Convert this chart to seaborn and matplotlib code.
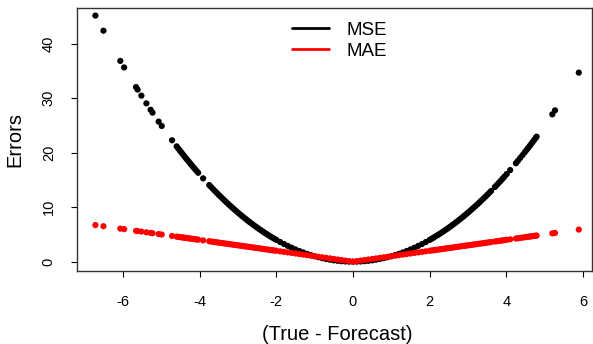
import matplotlib
matplotlib.use("Agg")
import matplotlib.pyplot as plt
from matplotlib.lines import Line2D
import seaborn as sns
import pandas as pd

# Forecast errors (True - Forecast)
errors = [
    -6.72, -6.51, -6.07, -5.97, -5.66, -5.62, -5.52, -5.39, -5.28, -5.23, -5.07, -4.99, -4.72,
    -4.60, -4.56, -4.52, -4.48, -4.44, -4.40, -4.36, -4.32, -4.28, -4.24, -4.20, -4.16, -4.12, -4.08, -4.04,
    -3.91,
    -3.75, -3.70, -3.65, -3.60, -3.55, -3.50, -3.45, -3.40, -3.35, -3.30, -3.25, -3.20, -3.15, -3.10,
    -3.05, -3.00, -2.95, -2.90, -2.85, -2.80, -2.75, -2.70, -2.65, -2.60, -2.55, -2.50, -2.45, -2.40,
    -2.35, -2.30, -2.25, -2.20, -2.15, -2.10, -2.05,
    -2.0, -1.9, -1.8, -1.7, -1.6, -1.5, -1.4, -1.3, -1.2, -1.1, -1.0, -0.9, -0.8, -0.7, -0.6, -0.5,
    -0.4, -0.3, -0.2, -0.1, 0.0, 0.1, 0.2, 0.3, 0.4, 0.5, 0.6, 0.7, 0.8, 0.9, 1.0, 1.1, 1.2, 1.3,
    1.4, 1.5, 1.6, 1.7, 1.8, 1.9, 2.0,
    2.05, 2.10, 2.15, 2.20, 2.25, 2.30, 2.35, 2.40, 2.45, 2.50, 2.55, 2.60, 2.65, 2.70, 2.75, 2.80,
    2.85, 2.90, 2.95, 3.00, 3.05, 3.10, 3.15, 3.20, 3.25, 3.30, 3.35, 3.40, 3.45, 3.50, 3.55, 3.60,
    3.70, 3.75, 3.80, 3.85, 3.90, 3.95,
    4.01, 4.10, 4.25, 4.30, 4.36, 4.42, 4.48, 4.53, 4.57, 4.61, 4.65, 4.69, 4.73, 4.77, 4.79,
    5.20, 5.27, 5.89,
]

mse = [
    45.16, 42.38, 36.84, 35.64, 32.04, 31.58, 30.47, 29.05, 27.88, 27.35, 25.70, 24.90, 22.28,
    21.16, 20.79, 20.43, 20.07, 19.71, 19.36, 19.01, 18.66, 18.32, 17.98, 17.64, 17.31, 16.97, 16.65, 16.32,
    15.29,
    14.06, 13.69, 13.32, 12.96, 12.60, 12.25, 11.90, 11.56, 11.22, 10.89, 10.56, 10.24, 9.92, 9.61,
    9.30, 9.00, 8.70, 8.41, 8.12, 7.84, 7.56, 7.29, 7.02, 6.76, 6.50, 6.25, 6.00, 5.76,
    5.52, 5.29, 5.06, 4.84, 4.62, 4.41, 4.20,
    4.00, 3.61, 3.24, 2.89, 2.56, 2.25, 1.96, 1.69, 1.44, 1.21, 1.00, 0.81, 0.64, 0.49, 0.36, 0.25,
    0.16, 0.09, 0.04, 0.01, 0.00, 0.01, 0.04, 0.09, 0.16, 0.25, 0.36, 0.49, 0.64, 0.81, 1.00, 1.21, 1.44, 1.69,
    1.96, 2.25, 2.56, 2.89, 3.24, 3.61, 4.00,
    4.20, 4.41, 4.62, 4.84, 5.06, 5.29, 5.52, 5.76, 6.00, 6.25, 6.50, 6.76, 7.02, 7.29, 7.56, 7.84,
    8.12, 8.41, 8.70, 9.00, 9.30, 9.61, 9.92, 10.24, 10.56, 10.89, 11.22, 11.56, 11.90, 12.25, 12.60, 12.96,
    13.69, 14.06, 14.44, 14.82, 15.21, 15.60,
    16.08, 16.81, 18.06, 18.49, 19.01, 19.54, 20.07, 20.52, 20.88, 21.25, 21.62, 22.00, 22.37, 22.75, 22.94,
    27.04, 27.77, 34.69,
]

mae = [
    6.72, 6.51, 6.07, 5.97, 5.66, 5.62, 5.52, 5.39, 5.28, 5.23, 5.07, 4.99, 4.72,
    4.60, 4.56, 4.52, 4.48, 4.44, 4.40, 4.36, 4.32, 4.28, 4.24, 4.20, 4.16, 4.12, 4.08, 4.04,
    3.91,
    3.75, 3.70, 3.65, 3.60, 3.55, 3.50, 3.45, 3.40, 3.35, 3.30, 3.25, 3.20, 3.15, 3.10,
    3.05, 3.00, 2.95, 2.90, 2.85, 2.80, 2.75, 2.70, 2.65, 2.60, 2.55, 2.50, 2.45, 2.40,
    2.35, 2.30, 2.25, 2.20, 2.15, 2.10, 2.05,
    2.0, 1.9, 1.8, 1.7, 1.6, 1.5, 1.4, 1.3, 1.2, 1.1, 1.0, 0.9, 0.8, 0.7, 0.6, 0.5,
    0.4, 0.3, 0.2, 0.1, 0.0, 0.1, 0.2, 0.3, 0.4, 0.5, 0.6, 0.7, 0.8, 0.9, 1.0, 1.1, 1.2, 1.3,
    1.4, 1.5, 1.6, 1.7, 1.8, 1.9, 2.0,
    2.05, 2.10, 2.15, 2.20, 2.25, 2.30, 2.35, 2.40, 2.45, 2.50, 2.55, 2.60, 2.65, 2.70, 2.75, 2.80,
    2.85, 2.90, 2.95, 3.00, 3.05, 3.10, 3.15, 3.20, 3.25, 3.30, 3.35, 3.40, 3.45, 3.50, 3.55, 3.60,
    3.70, 3.75, 3.80, 3.85, 3.90, 3.95,
    4.01, 4.10, 4.25, 4.30, 4.36, 4.42, 4.48, 4.53, 4.57, 4.61, 4.65, 4.69, 4.73, 4.77, 4.79,
    5.20, 5.27, 5.89,
]

series_names = ["MSE", "MAE"]
series_colors = ["black", "#FF0000"]
x_ticks = [-6, -4, -2, 0, 2, 4, 6]
y_ticks = [0, 10, 20, 30, 40]

df = pd.concat([
    pd.DataFrame({"err": errors, "value": mse, "metric": "MSE"}),
    pd.DataFrame({"err": errors, "value": mae, "metric": "MAE"}),
], ignore_index=True)

sns.set_style("white")
plt.rcParams["font.family"] = ["Liberation Sans", "DejaVu Sans"]
plt.rcParams["text.color"] = "black"
plt.rcParams["axes.labelcolor"] = "black"
plt.rcParams["xtick.color"] = "black"
plt.rcParams["ytick.color"] = "black"

W, H = 593, 344
fig = plt.figure(figsize=(W / 100, H / 100), dpi=100)
ax = fig.add_axes([77 / W, 1 - 271 / H, (592 - 77) / W, (271 - 8) / H])

sns.scatterplot(data=df, x="err", y="value", hue="metric",
                hue_order=series_names, palette=series_colors,
                s=20, linewidth=0, edgecolor="none", legend=False, ax=ax)

ax.set_xlim(-7.20, 6.235)
ax.set_ylim(-1.71, 46.55)
ax.set_xticks(x_ticks)
ax.set_yticks(y_ticks)
ax.set_xticklabels([str(v) for v in x_ticks])
ax.set_yticklabels([str(v) for v in y_ticks], rotation=90, va="center")
ax.tick_params(axis="both", direction="out", length=4.3, width=0.8, colors="black",
               labelsize=10.5, bottom=True, left=True)
ax.tick_params(axis="x", pad=13)
ax.tick_params(axis="y", pad=11)
for sp in ax.spines.values():
    sp.set_visible(True)
    sp.set_color("#333333")
    sp.set_linewidth(1.0)

ax.set_xlabel("(True - Forecast)", fontsize=14.5, color="black")
ax.set_ylabel("Errors", fontsize=14.5, color="black")
ax.xaxis.label.set(va="center", ha="center")
ax.yaxis.label.set(va="center", ha="center", rotation_mode="default")
ax.xaxis.set_label_coords((337.4 - 77) / (592 - 77), -(334 - 271) / (271 - 8))
ax.yaxis.set_label_coords(-(77 - 15) / (592 - 77), 0.5)

handles = [Line2D([], [], color=c, lw=2) for c in series_colors]
leg = ax.legend(handles, series_names, loc="upper left",
                bbox_to_anchor=(291.7 / W, 1 - 21.5 / H), bbox_transform=fig.transFigure,
                frameon=False, borderpad=0, borderaxespad=0, handlelength=2.0,
                handletextpad=0.9, labelspacing=0.22, fontsize=13.5)
for t in leg.get_texts():
    t.set_color("black")

fig.savefig("out.png", dpi=100)
